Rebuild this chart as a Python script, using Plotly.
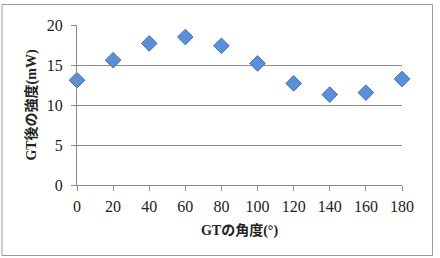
import plotly.graph_objects as go

angles = [0, 20, 40, 60, 80, 100, 120, 140, 160, 180]
power = [13.1, 15.6, 17.7, 18.5, 17.4, 15.2, 12.7, 11.3, 11.55, 13.25]
x_ticks = [0, 20, 40, 60, 80, 100, 120, 140, 160, 180]
y_ticks = [0, 5, 10, 15, 20]

W, H = 440, 258
ml, mr, mt, mb = 77, 38, 25, 73

fig = go.Figure(go.Scatter(
    x=angles, y=power, mode="markers",
    marker=dict(symbol="diamond", size=12, color="#5B8FD6",
                line=dict(color="#3F6FB5", width=1)),
    cliponaxis=False,
))

font_fam = "Liberation Serif, Noto Sans CJK JP, serif"
fig.update_layout(
    width=W, height=H,
    margin=dict(l=ml, r=mr, t=mt, b=mb),
    paper_bgcolor="white", plot_bgcolor="white",
    showlegend=False,
    font=dict(family=font_fam, size=16, color="#222"),
    xaxis=dict(range=[0, 180], tickvals=x_ticks, showgrid=False,
               showline=True, linecolor="#8c8c8c", linewidth=1,
               ticks="outside", ticklen=5, tickcolor="#8c8c8c",
               zeroline=False, tickfont=dict(size=16), ticklabelstandoff=2,
               title=dict(text="<b>GTの角度(°)</b>", font=dict(size=14), standoff=10)),
    yaxis=dict(range=[0, 20], tickvals=y_ticks, showgrid=True,
               gridcolor="#8c8c8c", gridwidth=1,
               showline=True, linecolor="#8c8c8c", linewidth=1,
               ticks="outside", ticklen=5, tickcolor="#8c8c8c",
               zeroline=False, tickfont=dict(size=16), ticklabelstandoff=5,
               title=dict(text="<b>GT後の強度(mW)</b>", font=dict(size=14), standoff=6)),
    shapes=[dict(type="rect", xref="paper", yref="paper",
                 x0=(2 - ml) / (W - ml - mr), x1=(432.5 - ml) / (W - ml - mr),
                 y0=(H - mb - 255.5) / (H - mt - mb), y1=(H - mb - 4.5) / (H - mt - mb),
                 line=dict(color="#9a9a9a", width=1), fillcolor="rgba(0,0,0,0)", layer="below")],
)

fig.write_html("out.html")
